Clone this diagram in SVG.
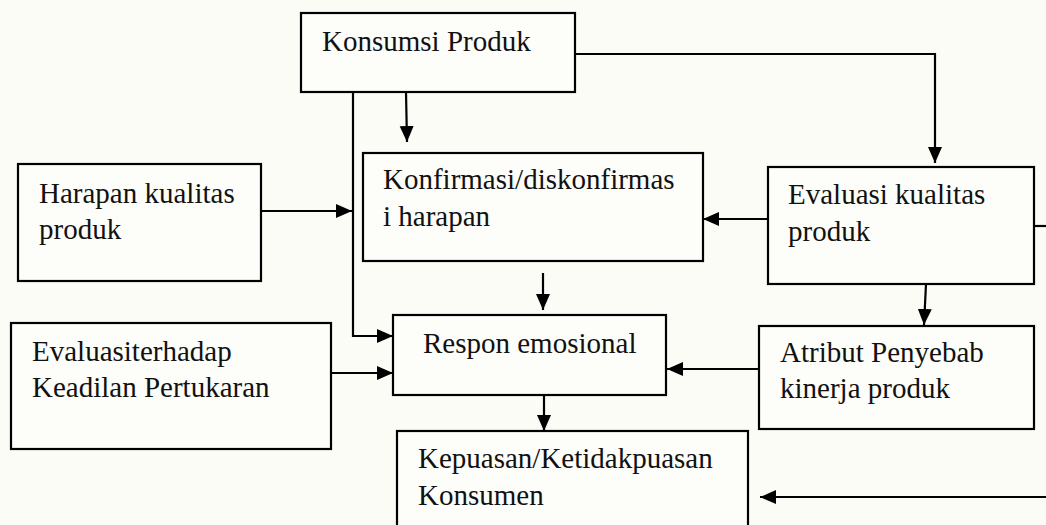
<svg xmlns="http://www.w3.org/2000/svg" width="1046" height="525" viewBox="0 0 1046 525">
<style>
.box{fill:#fdfdf9;stroke:#000;stroke-width:2.2}
.t{font-family:"Liberation Serif","Times New Roman",serif;font-size:29px;fill:#111}
.c{fill:none;stroke:#000;stroke-width:2.2}
.a{marker-end:url(#ah)}
</style>
<defs>
<marker id="ah" markerUnits="userSpaceOnUse" markerWidth="17" markerHeight="16" viewBox="0 0 17 16" refX="16" refY="8" orient="auto">
<path d="M0,1 L16,8 L0,15 Z" fill="#000"/>
</marker>
</defs>
<rect width="1046" height="525" fill="#fcfcf7"/>
<g id="konsumsi"><rect class="box" x="301" y="13" width="274" height="79"/><text class="t" x="322" y="51">Konsumsi Produk</text></g>
<g id="harapan"><rect class="box" x="18" y="164" width="243" height="117"/><text class="t" x="39" y="203">Harapan kualitas</text><text class="t" x="39" y="239">produk</text></g>
<g id="konfirmasi"><rect class="box" x="363" y="153" width="340" height="108"/><text class="t" x="383" y="189">Konfirmasi/diskonfirmas</text><text class="t" x="383" y="226">i harapan</text></g>
<g id="evaluasi-kualitas"><rect class="box" x="768" y="167" width="266" height="117"/><text class="t" x="788" y="204">Evaluasi kualitas</text><text class="t" x="788" y="241">produk</text></g>
<g id="evaluasi-keadilan"><rect class="box" x="11" y="323" width="320" height="126"/><text class="t" x="32" y="361">Evaluasiterhadap</text><text class="t" x="32" y="397">Keadilan Pertukaran</text></g>
<g id="respon"><rect class="box" x="393" y="315" width="273" height="80"/><text class="t" x="423" y="353">Respon emosional</text></g>
<g id="atribut"><rect class="box" x="759" y="326" width="275" height="103"/><text class="t" x="780" y="362">Atribut Penyebab</text><text class="t" x="780" y="398">kinerja produk</text></g>
<g id="kepuasan"><rect class="box" x="397" y="431" width="351" height="110"/><text class="t" x="418" y="468">Kepuasan/Ketidakpuasan</text><text class="t" x="418" y="505">Konsumen</text></g>
<g id="connectors">
<path class="c a" d="M406,92 L407,142"/>
<path class="c a" d="M575,54 L935,54 L935,163"/>
<path class="c a" d="M353,92 L353,336 L393,336"/>
<path class="c a" d="M261,211 L352,211"/>
<path class="c a" d="M768,219 L703,219"/>
<path class="c a" d="M543,273 L543,310"/>
<path class="c a" d="M331,373 L393,373"/>
<path class="c a" d="M926,284 L924,325"/>
<path class="c a" d="M759,369 L667,369"/>
<path class="c a" d="M544,395 L544,431"/>
<path class="c" d="M1034,226 L1046,226"/>
<path class="c a" d="M1046,497 L760,497"/>
</g>
</svg>
